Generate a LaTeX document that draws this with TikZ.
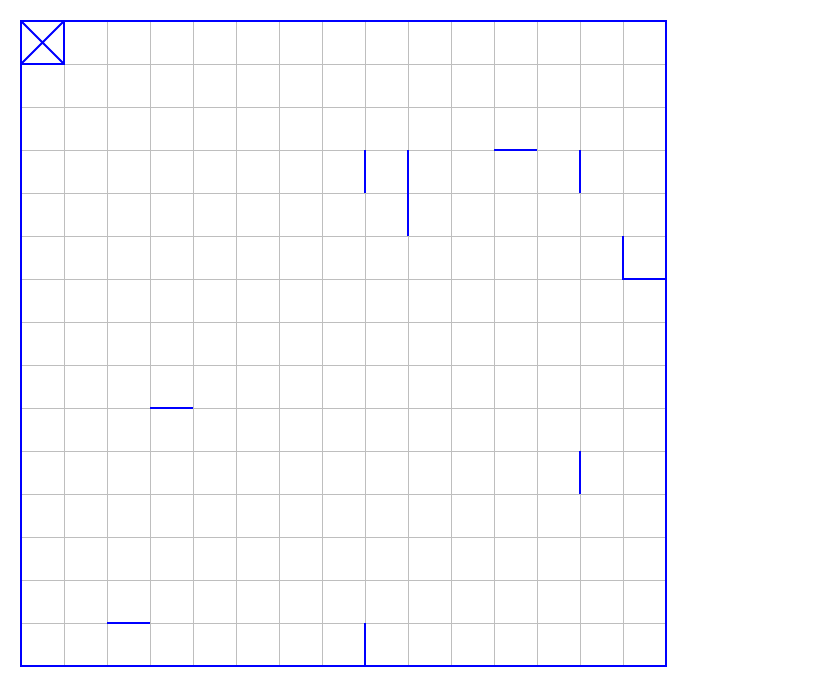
\documentclass[tikz,border=0pt]{standalone}
\begin{document}
\begin{tikzpicture}[x=1cm,y=-1cm,
  gridline/.style={draw={rgb,255:red,190;green,190;blue,190},line width=0.66pt},
  wall/.style={draw={rgb,255:red,0;green,0;blue,255},line width=1.3pt}]
\useasboundingbox[fill=white] (-0.4884,-0.4884) rectangle (18.9302,15.7442);
\draw[gridline] (0,0) grid (15,15);
\draw[wall] (0,0) rectangle (15,15);
\draw[wall] (0,0) rectangle (1,1) (0,0) -- (1,1) (1,0) -- (0,1);
\draw[wall] (8,3) -- (8,4);
\draw[wall] (9,3) -- (9,5);
\draw[wall] (11,3) -- (12,3);
\draw[wall] (13,3) -- (13,4);
\draw[wall] (14,5) -- (14,6) -- (15,6);
\draw[wall] (3,9) -- (4,9);
\draw[wall] (13,10) -- (13,11);
\draw[wall] (2,14) -- (3,14);
\draw[wall] (8,14) -- (8,15);
\end{tikzpicture}
\end{document}
